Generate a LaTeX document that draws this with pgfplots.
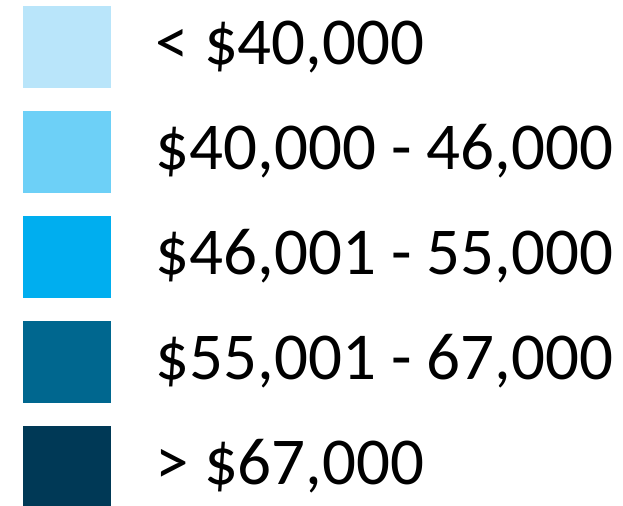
\documentclass[border=0pt]{standalone}
\usepackage{pgfplots}
\pgfplotsset{compat=1.18}
\usepackage{fontspec}
\setmainfont{Carlito}
\definecolor{incA}{HTML}{B9E5FA}
\definecolor{incB}{HTML}{6DD0F7}
\definecolor{incC}{HTML}{00AEEF}
\definecolor{incD}{HTML}{00678F}
\definecolor{incE}{HTML}{003956}

\begin{document}
\begin{tikzpicture}
\path[use as bounding box] (0,0) rectangle (623bp,-506bp);
\clip (0,0) rectangle (623bp,-506bp);
\begin{axis}[
  at={(0bp,-506bp)}, anchor=south west,
  width=623bp, height=506bp, scale only axis,
  hide axis,
  xmin=0, xmax=623, ymin=0, ymax=506,
  legend image code/.code={\fill[#1] (0bp,-24bp) rectangle (88bp,58bp);},
  legend style={
    at={(axis cs:23,500)}, anchor=north west,
    draw=none, fill=none, inner sep=0pt, outer sep=0pt,
    row sep=23bp, column sep=44.5bp,
    font=\fontsize{67bp}{80bp}\selectfont,
    nodes={inner sep=0pt, outer sep=0pt},
    cells={anchor=base west},
  },
]
\addlegendimage{fill=incA, draw=none}
\addlegendentry{< \$40,000}
\addlegendimage{fill=incB, draw=none}
\addlegendentry{\$40,000 - 46,000}
\addlegendimage{fill=incC, draw=none}
\addlegendentry{\$46,001 - 55,000}
\addlegendimage{fill=incD, draw=none}
\addlegendentry{\$55,001 - 67,000}
\addlegendimage{fill=incE, draw=none}
\addlegendentry{> \$67,000}
\end{axis}
\end{tikzpicture}
\end{document}
